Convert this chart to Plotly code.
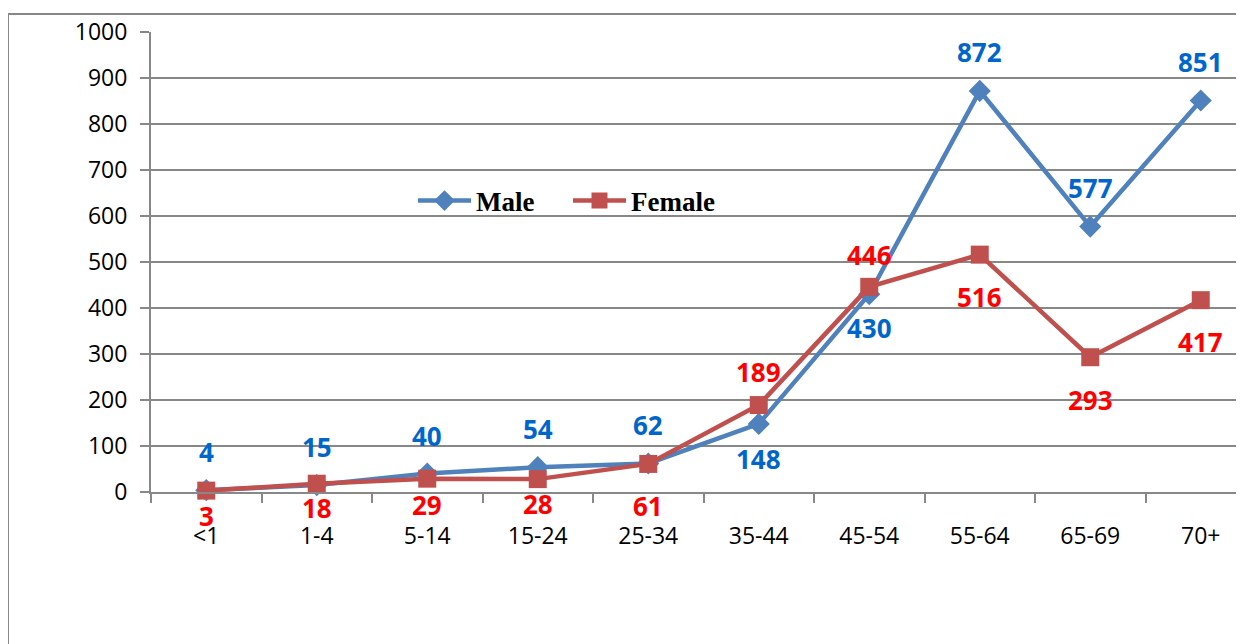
import plotly.graph_objects as go

categories = ["<1", "1-4", "5-14", "15-24", "25-34", "35-44", "45-54", "55-64", "65-69", "70+"]
male = [4, 15, 40, 54, 62, 148, 430, 872, 577, 851]
female = [3, 18, 29, 28, 61, 189, 446, 516, 293, 417]
y_ticks = [0, 100, 200, 300, 400, 500, 600, 700, 800, 900, 1000]

# label vertical offsets in pixels (style only)
male_label_shift = [38, 38, 38, 38, 38, -35, -34, 39, 39, 39]
female_label_shift = [-25, -24, -26, -25, -42, 33, 32, -42, -43, -42]

# page has an 8px body margin; figure coordinates = page coordinates - 8
OFF = 8
W, H = 1244 - OFF, 644 - OFF
L, T = 151 - OFF, 32 - OFF
B = H - (492 - OFF)
R = 0
pw, ph = W - L - R, H - T - B

fig = go.Figure()
fig.add_trace(go.Scatter(
    x=categories, y=male, name="Male", mode="lines+markers",
    line=dict(color="#4F81BD", width=4.5),
    marker=dict(symbol="diamond", size=17, color="#4F81BD"),
    cliponaxis=False,
))
fig.add_trace(go.Scatter(
    x=categories, y=female, name="Female", mode="lines+markers",
    line=dict(color="#C0504D", width=4.5),
    marker=dict(symbol="square", size=18, color="#C0504D"),
    cliponaxis=False,
))

ann = []
for c, v, s in zip(categories, male, male_label_shift):
    ann.append(dict(x=c, y=v, text=str(v), showarrow=False, yshift=s,
                    font=dict(family="Open Sans", size=26, color="#0066CC", weight="bold")))
for c, v, s in zip(categories, female, female_label_shift):
    ann.append(dict(x=c, y=v, text=str(v), showarrow=False, yshift=s,
                    font=dict(family="Open Sans", size=26, color="#FF0000", weight="bold")))

fig.update_layout(
    width=W, height=H,
    margin=dict(l=L, r=R, t=T, b=B, pad=0),
    paper_bgcolor="white", plot_bgcolor="white",
    showlegend=True,
    legend=dict(
        orientation="h", x=(405 - L) / pw, y=(492 - 201) / ph,
        xanchor="left", yanchor="middle",
        font=dict(family="Liberation Serif", size=27, color="black", weight="bold"),
        bgcolor="rgba(0,0,0,0)", itemwidth=53, entrywidth=87, entrywidthmode="pixels",
    ),
    annotations=ann,
    shapes=[dict(type="rect", xref="paper", yref="paper",
                 x0=(0 - L) / pw, x1=1.2, y0=-0.6, y1=(492 - 14) / ph,
                 line=dict(color="#888888", width=2), fillcolor="rgba(0,0,0,0)",
                 layer="below")],
)

fig.update_xaxes(
    type="category", range=[-0.5, 9.5 - 12 / 110.5],
    showgrid=False, showline=True, linecolor="#888888", linewidth=2,
    ticks="outside", tickson="boundaries", ticklen=9, tickwidth=2, tickcolor="#888888",
    ticklabelstandoff=22,
    tickfont=dict(family="Open Sans", size=23, color="black"),
    zeroline=False,
)
fig.update_yaxes(
    range=[0, 1000], tickvals=y_ticks,
    showgrid=True, gridcolor="#888888", gridwidth=2,
    showline=True, linecolor="#888888", linewidth=2,
    ticks="outside", ticklen=9, tickwidth=2, tickcolor="#888888",
    ticklabelstandoff=8,
    tickfont=dict(family="Open Sans", size=23, color="black"),
    zeroline=False,
)

fig.write_html("out.html")
